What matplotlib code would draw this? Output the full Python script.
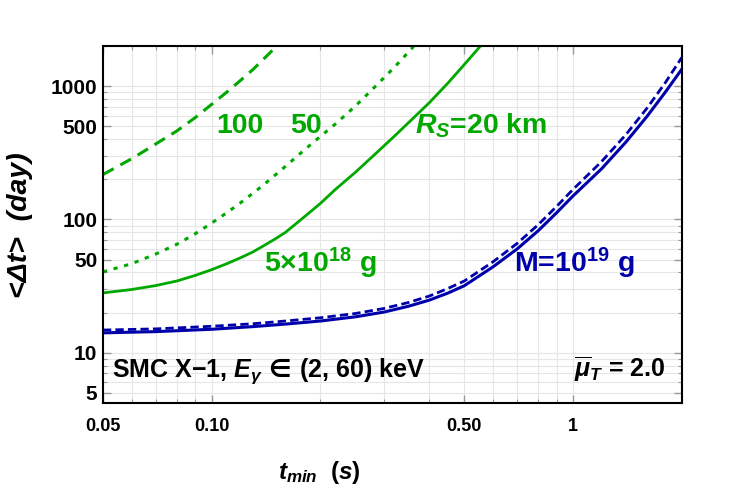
import matplotlib
matplotlib.use("Agg")
import matplotlib.pyplot as plt
from matplotlib.ticker import FixedLocator, NullFormatter

plt.rcParams["font.family"] = ["Liberation Sans", "DejaVu Sans"]
plt.rcParams["font.weight"] = "bold"
plt.rcParams["mathtext.fontset"] = "custom"
plt.rcParams["mathtext.rm"] = "Liberation Sans:bold"
plt.rcParams["mathtext.bf"] = "Liberation Sans:bold"
plt.rcParams["mathtext.it"] = "Liberation Sans:italic:bold"
plt.rcParams["mathtext.sf"] = "DejaVu Sans:bold"

# valores (t_min em s, <dt> em dias)
t_blue = [0.05, 0.07, 0.1, 0.13, 0.16, 0.2, 0.25, 0.3, 0.35, 0.4, 0.45, 0.5,
          0.6, 0.7, 0.8, 0.9, 1.0, 1.2, 1.4, 1.6, 1.8, 2.0]
blue_solid = [14.1, 14.4, 15.0, 15.7, 16.4, 17.3, 18.6, 20.2, 22.3, 24.8, 28.0, 31.8,
              44, 60, 82, 112, 150, 240, 380, 590, 900, 1340]
blue_dashed = [14.8, 15.1, 15.8, 16.5, 17.3, 18.3, 19.7, 21.5, 23.8, 26.6, 30.3, 34.5,
               48, 66, 91, 125, 168, 272, 432, 680, 1060, 1640]

t_g20 = [0.05, 0.06, 0.07, 0.08, 0.09, 0.1, 0.11, 0.12, 0.13, 0.14, 0.15, 0.16,
         0.18, 0.2, 0.22, 0.25, 0.28, 0.32, 0.36, 0.4, 0.45, 0.5, 0.55, 0.56]
green_20 = [28.1, 29.8, 31.9, 34.5, 38.0, 42.0, 46.5, 51.5, 57.0, 64.0, 71.5, 80,
            104, 132, 168, 226, 300, 420, 570, 750, 1050, 1450, 1950, 2050]

t_g50 = [0.05, 0.06, 0.07, 0.08, 0.09, 0.1, 0.11, 0.12, 0.13, 0.14, 0.16, 0.18,
         0.2, 0.22, 0.25, 0.28, 0.32, 0.36, 0.365]
green_50 = [40.4, 46.5, 55, 65, 78, 94, 112, 133, 157, 184, 250, 330,
            420, 520, 710, 960, 1380, 1950, 2050]

t_g100 = [0.05, 0.055, 0.06, 0.065, 0.07, 0.08, 0.09, 0.1, 0.11, 0.12, 0.13, 0.14,
          0.15, 0.153]
green_100 = [217, 250, 285, 325, 368, 460, 580, 730, 900, 1100, 1330, 1620,
             1950, 2050]

x_ticks = [0.05, 0.1, 0.5, 1]
x_labels = ["0.05", "0.10", "0.50", "1"]
y_ticks = [5, 10, 50, 100, 500, 1000]
y_labels = ["5", "10", "50", "100", "500", "1000"]

verde = "#00a800"
azul = "#0000aa"

fig = plt.figure(figsize=(7.3, 4.9), dpi=100)
ax = fig.add_axes([0.141, 0.1776, 0.793, 0.7286])

ax.plot(t_g100, green_100, color=verde, lw=2.2, ls=(0, (4, 2.5)))
ax.plot(t_g50, green_50, color=verde, lw=2.2, ls=(0, (1.4, 2.2)))
ax.plot(t_g20, green_20, color=verde, lw=2.0)
ax.plot(t_blue, blue_dashed, color=azul, lw=2.0, ls=(0, (3.0, 1.5)))
ax.plot(t_blue, blue_solid, color=azul, lw=2.2)

ax.set_xscale("log")
ax.set_yscale("log")
ax.set_xlim(0.05, 2.0)
ax.set_ylim(4.2, 2000)

ax.xaxis.set_major_locator(FixedLocator(x_ticks))
ax.set_xticklabels(x_labels)
ax.yaxis.set_major_locator(FixedLocator(y_ticks))
ax.set_yticklabels(y_labels)
ax.xaxis.set_minor_formatter(NullFormatter())
ax.yaxis.set_minor_formatter(NullFormatter())

ax.tick_params(which="both", direction="in", top=True, right=True, color="#999999")
ax.tick_params(which="major", length=6, width=1)
ax.tick_params(which="minor", length=3, width=0.8)
ax.tick_params(axis="x", labelsize=13, pad=11)
ax.tick_params(axis="y", labelsize=15, pad=4)
ax.grid(which="both", color="#e6e6e6", lw=0.8)
for s in ax.spines.values():
    s.set_linewidth(1.5)
    s.set_color("black")

# rótulos das curvas
ax.text(0.12, 500, "100", color=verde, fontsize=20.5, ha="center", va="center")
ax.text(0.182, 500, "50", color=verde, fontsize=20.5, ha="center", va="center")
ax.text(0.555, 500, r"$R_S$=20 km", color=verde, fontsize=20.5, ha="center", va="center")
ax.text(0.2, 47, r"5×10$^{18}$ g", color=verde, fontsize=20.5, ha="center", va="center")
ax.text(1.01, 47, r"M=10$^{19}$ g", color=azul, fontsize=20.5, ha="center", va="center")

ax.text(0.016, 0.073, r"SMC X−1, $E_\gamma\,\mathsf{\in}\,$(2, 60) keV", transform=ax.transAxes,
        fontsize=18, ha="left", va="baseline")
ax.text(0.971, 0.073, r"$\overline{\mu}_T$ = 2.0", transform=ax.transAxes,
        fontsize=18, ha="right", va="baseline")

fig.text(0.438, 0.035, r"$t_{min}$  $(s)$", fontsize=17.5, ha="center", va="center")
fig.text(0.028, 0.54, "<Δt>  (day)", fontsize=20.5, style="italic", rotation=90,
         ha="center", va="center")

fig.savefig("out.png", dpi=100)
